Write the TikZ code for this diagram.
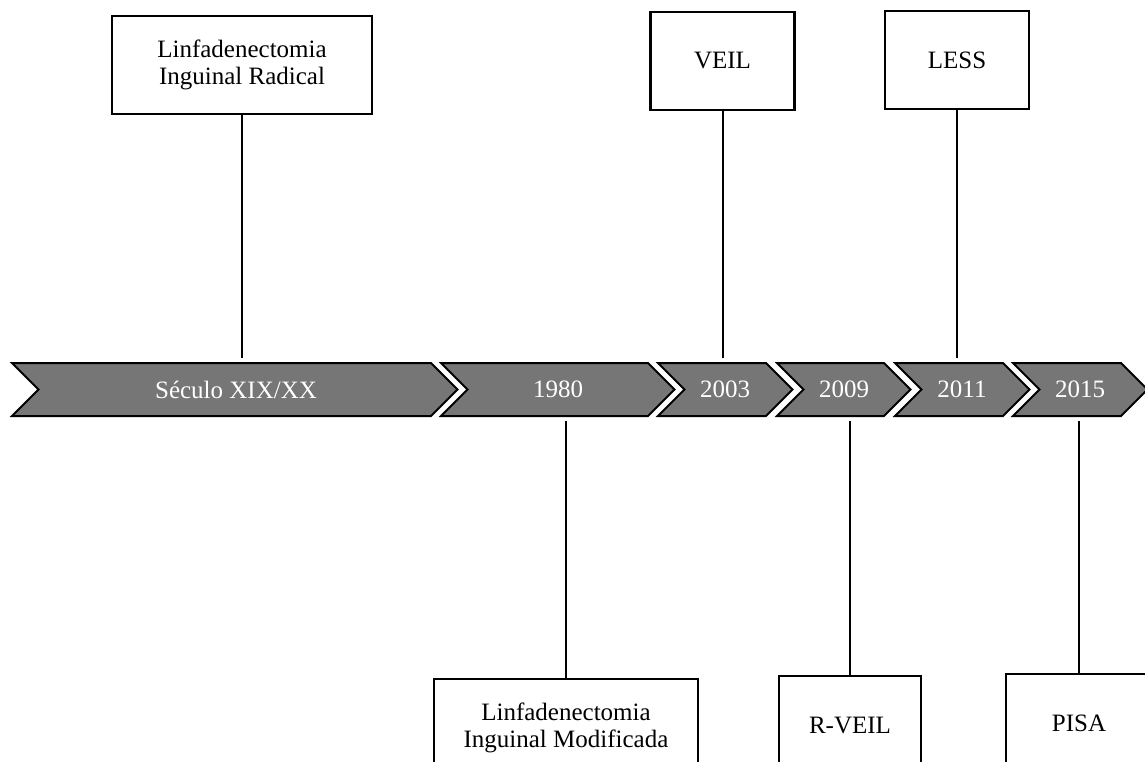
\documentclass[tikz,border=0pt]{standalone}
\usepackage{fontspec}
\setmainfont{Liberation Serif}
\definecolor{chevgray}{RGB}{118,118,118}
\begin{document}
\begin{tikzpicture}[x=1pt,y=-1pt,
  box/.style={draw=black, line width=2.2pt, fill=white, align=center, inner sep=0pt,
    font=\fontsize{25}{27}\selectfont},
  chev/.style={draw=black, line width=2pt, fill=chevgray, line join=miter},
  lbl/.style={text=white, inner sep=0pt, font=\fontsize{25}{27}\selectfont},
  link/.style={draw=black, line width=2pt}]
\useasboundingbox (0,0) rectangle (1145,762);
\clip (0,0) rectangle (1145,762);

% chevrons
\draw[chev] (12,363) -- (431,363) -- (457.5,389.5) -- (431,416) -- (12,416) -- (38.5,389.5) -- cycle;
\draw[chev] (441,363) -- (648,363) -- (674.5,389.5) -- (648,416) -- (441,416) -- (467.5,389.5) -- cycle;
\draw[chev] (658,363) -- (766,363) -- (792.5,389.5) -- (766,416) -- (658,416) -- (684.5,389.5) -- cycle;
\draw[chev] (777,363) -- (884,363) -- (910.5,389.5) -- (884,416) -- (777,416) -- (803.5,389.5) -- cycle;
\draw[chev] (895,363) -- (1003,363) -- (1029.5,389.5) -- (1003,416) -- (895,416) -- (921.5,389.5) -- cycle;
\draw[chev] (1013,363) -- (1121,363) -- (1147.5,389.5) -- (1121,416) -- (1013,416) -- (1039.5,389.5) -- cycle;

\node[lbl] (y1) at (236,389.5) {Século XIX/XX};
\node[lbl] (y2) at (558,389.5) {1980};
\node[lbl] (y3) at (725,389.5) {2003};
\node[lbl] (y4) at (844,389.5) {2009};
\node[lbl] (y5) at (962,389.5) {2011};
\node[lbl] (y6) at (1080,389.5) {2015};

% top boxes
\node[box, minimum width=260pt, minimum height=98pt] (t1) at (242,65) {Linfadenectomia\\Inguinal Radical};
\node[box, minimum width=144pt, minimum height=98pt] (t3) at (722.5,61) {VEIL};
\node[box, minimum width=144pt, minimum height=98pt] (t5) at (957,60) {LESS};

% bottom boxes
\node[box, minimum width=264pt, minimum height=98pt] (b2) at (566,728) {Linfadenectomia\\Inguinal Modificada};
\node[box, minimum width=142pt, minimum height=98pt] (b4) at (850,725) {R-VEIL};
\node[box, minimum width=146pt, minimum height=98pt] (b6) at (1079,723) {PISA};

% connector ends near the chevrons
\coordinate (a1) at (242,358);
\coordinate (a3) at (722.5,358);
\coordinate (a5) at (957,358);
\coordinate (a2) at (566,421);
\coordinate (a4) at (850,421);
\coordinate (a6) at (1079,421);

\draw[link] (t1.south) -- (a1);
\draw[link] (t3.south) -- (a3);
\draw[link] (t5.south) -- (a5);
\draw[link] (a2) -- (b2.north);
\draw[link] (a4) -- (b4.north);
\draw[link] (a6) -- (b6.north);
\end{tikzpicture}
\end{document}
